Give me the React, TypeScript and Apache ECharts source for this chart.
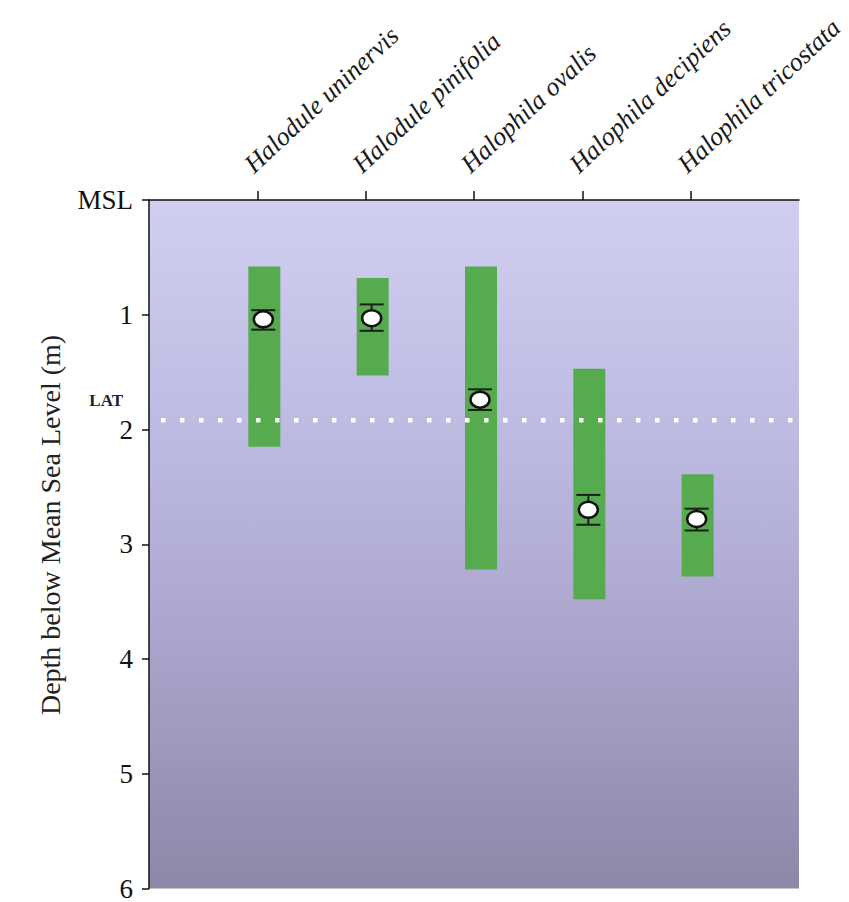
import React, { useEffect, useRef } from "react";
import * as echarts from "echarts";

const categories = [
  "Halodule uninervis",
  "Halodule pinifolia",
  "Halophila ovalis",
  "Halophila decipiens",
  "Halophila tricostata",
];
const rangeMin = [0.58, 0.68, 0.58, 1.47, 2.39];
const rangeMax = [2.15, 1.53, 3.22, 3.48, 3.28];
const meanDepth = [1.04, 1.03, 1.74, 2.7, 2.78];
const errLow = [0.96, 0.91, 1.65, 2.57, 2.69];
const errHigh = [1.13, 1.14, 1.83, 2.83, 2.88];
const latDepth = 1.92;
const yTickLabels = ["MSL", "1", "2", "3", "4", "5", "6"];
const yAxisTitle = "Depth below Mean Sea Level (m)";

const SERIF = "'Liberation Serif', 'Times New Roman', serif";
const BAR_SHIFT = 7;

export default function App() {
  const ref = useRef<HTMLDivElement>(null);
  useEffect(() => {
    document.body.style.margin = "0";
    const chart = echarts.init(ref.current!, null, { renderer: "svg" });
    const positions = categories.map((_, i) => i + 1);

    const option: any = {
      animation: false,
      backgroundColor: "#ffffff",
      grid: {
        left: 149,
        top: 200,
        right: 50,
        bottom: 7,
        show: true,
        borderWidth: 0,
        backgroundColor: new echarts.graphic.LinearGradient(0, 0, 0, 1, [
          { offset: 0, color: "#d0cef0" },
          { offset: 0.35, color: "#bdbae2" },
          { offset: 0.65, color: "#a9a4cb" },
          { offset: 1, color: "#8d88a8" },
        ]),
      },
      xAxis: [
        {
          type: "category",
          position: "top",
          data: ["", ...categories, ""],
          boundaryGap: false,
          axisLine: { show: true, lineStyle: { color: "#111", width: 1.5 } },
          axisTick: {
            show: true,
            length: 9,
            interval: (i: number) => i > 0 && i < categories.length + 1,
            lineStyle: { color: "#111", width: 1.5 },
          },
          axisLabel: { show: false },
          splitLine: { show: false },
        },
        { type: "value", min: 0, max: 6, show: false },
      ],
      yAxis: {
        type: "value",
        inverse: true,
        min: 0,
        max: 6,
        interval: 1,
        axisLine: { show: true, lineStyle: { color: "#111", width: 1.5 } },
        axisTick: { show: true, length: 7, lineStyle: { color: "#111", width: 1.5 } },
        axisLabel: {
          formatter: (v: number) => yTickLabels[Math.round(v)] ?? "",
          fontFamily: SERIF,
          fontSize: 27,
          color: "#111",
          margin: 16,
        },
        splitLine: { show: false },
      },
      graphic: [
        {
          type: "text",
          x: 50,
          y: 525,
          rotation: Math.PI / 2,
          style: {
            text: yAxisTitle,
            fontFamily: SERIF,
            fontSize: 28,
            fill: "#222",
            textAlign: "center",
            textVerticalAlign: "middle",
          },
        },
      ],
      series: [
        {
          type: "custom",
          name: "Depth range",
          xAxisIndex: 1,
          yAxisIndex: 0,
          data: positions.map((x, i) => [x, rangeMin[i], rangeMax[i]]),
          renderItem: (params: any, api: any) => {
            const top = api.coord([api.value(0), api.value(1)]);
            const bot = api.coord([api.value(0), api.value(2)]);
            return {
              type: "rect",
              shape: { x: top[0] + BAR_SHIFT - 16, y: top[1], width: 32, height: bot[1] - top[1] },
              style: { fill: "#55ab4e" },
            };
          },
        },
        {
          type: "custom",
          name: "LAT",
          xAxisIndex: 1,
          yAxisIndex: 0,
          clip: false,
          data: [[0, latDepth]],
          renderItem: (params: any, api: any) => {
            const p0 = api.coord([0, api.value(1)]);
            const p1 = api.coord([6, api.value(1)]);
            return {
              type: "group",
              children: [
                {
                  type: "line",
                  shape: { x1: p0[0] + 12, y1: p0[1], x2: p1[0] + 4, y2: p1[1] },
                  style: { stroke: "#ffffff", lineWidth: 4.5, lineDash: [4.5, 14.5], lineCap: "butt" },
                },
                {
                  type: "text",
                  x: p0[0] - 26,
                  y: p0[1] - 20,
                  style: {
                    text: "LAT",
                    fontFamily: SERIF,
                    fontSize: 17,
                    fontWeight: "bold",
                    fill: "#222",
                    textAlign: "right",
                    textVerticalAlign: "middle",
                  },
                },
              ],
            };
          },
        },
        {
          type: "custom",
          name: "Mean depth",
          xAxisIndex: 1,
          yAxisIndex: 0,
          data: positions.map((x, i) => [x, meanDepth[i], errLow[i], errHigh[i]]),
          renderItem: (params: any, api: any) => {
            const m = api.coord([api.value(0), api.value(1)]);
            const lo = api.coord([api.value(0), api.value(2)]);
            const hi = api.coord([api.value(0), api.value(3)]);
            const cx = m[0] + BAR_SHIFT - 1;
            const st = { stroke: "#1e1e1e", lineWidth: 2 };
            return {
              type: "group",
              children: [
                { type: "line", shape: { x1: cx, y1: lo[1], x2: cx, y2: hi[1] }, style: st },
                { type: "line", shape: { x1: cx - 12, y1: lo[1], x2: cx + 12, y2: lo[1] }, style: st },
                { type: "line", shape: { x1: cx - 12, y1: hi[1], x2: cx + 12, y2: hi[1] }, style: st },
                {
                  type: "ellipse",
                  shape: { cx, cy: m[1], rx: 9.5, ry: 8 },
                  style: { fill: "#ffffff", stroke: "#111", lineWidth: 2.5 },
                },
              ],
            };
          },
        },
        {
          type: "custom",
          name: "Species labels",
          xAxisIndex: 1,
          yAxisIndex: 0,
          clip: false,
          data: positions.map((x) => [x, 0]),
          renderItem: (params: any, api: any) => {
            const p = api.coord([api.value(0), api.value(1)]);
            return {
              type: "text",
              x: p[0] - 9,
              y: p[1] - 32,
              rotation: (43 * Math.PI) / 180,
              style: {
                text: categories[params.dataIndex],
                fontFamily: SERIF,
                fontStyle: "italic",
                fontSize: 26,
                fill: "#1a1a1a",
                textAlign: "left",
                textVerticalAlign: "middle",
              },
            };
          },
        },
      ],
    };
    chart.setOption(option);
    return () => chart.dispose();
  }, []);
  return <div ref={ref} style={{ width: 849, height: 902 }} />;
}
